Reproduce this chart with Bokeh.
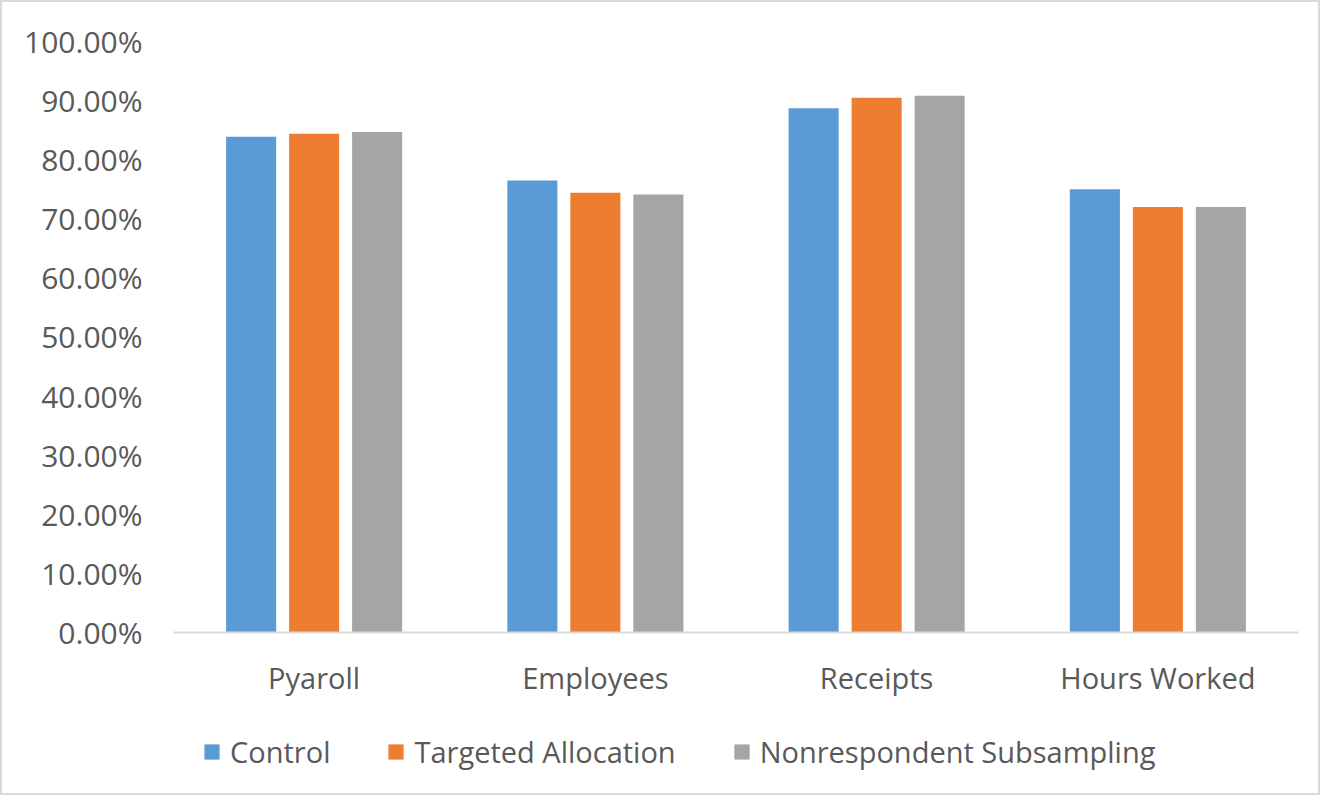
from bokeh.plotting import figure
from bokeh.models import (ColumnDataSource, Range1d, FactorRange, NumeralTickFormatter,
                          FixedTicker, Legend, LegendItem, Span)
from bokeh.core.properties import value
from bokeh.transform import dodge
from bokeh.embed import file_html
from bokeh.resources import INLINE

categories = ["Pyaroll", "Employees", "Receipts", "Hours Worked"]
series_names = ["Control", "Targeted Allocation", "Nonrespondent Subsampling"]
control = [0.839, 0.765, 0.887, 0.750]
targeted = [0.844, 0.744, 0.905, 0.720]
nonresp = [0.847, 0.741, 0.908, 0.720]
y_ticks = [0.0, 0.1, 0.2, 0.3, 0.4, 0.5, 0.6, 0.7, 0.8, 0.9, 1.0]
colors = ["#5B9BD5", "#ED7D31", "#A5A5A5"]

source = ColumnDataSource(data=dict(cat=categories, control=control,
                                    targeted=targeted, nonresp=nonresp,
                                    zero=[0.0] * len(categories)))

FONT = "Open Sans"
TXT = "#595959"

# frame extends below zero to hold category labels and legend
p = figure(x_range=FactorRange(*categories), y_range=Range1d(-0.2792, 1.0),
           width=1320, height=795, output_backend="svg", toolbar_location=None,
           min_border_left=171, min_border_right=24, min_border_top=39,
           min_border_bottom=0)
p.styles = {"border": "2px solid #d9d9d9"}
p.outline_line_color = None
p.xgrid.grid_line_color = None
p.ygrid.grid_line_color = None
p.xaxis.visible = False

cols = ["control", "targeted", "nonresp"]
offsets = [-0.224, 0.0, 0.224]
renderers = []
for col, off, c in zip(cols, offsets, colors):
    r = p.vbar(x=dodge("cat", off, range=p.x_range), top=col, width=0.178,
               source=source, fill_color=c, line_color=None)
    renderers.append(r)

# baseline (category axis line)
p.add_layout(Span(location=0, dimension="width", line_color="#d9d9d9", line_width=2))

# category labels
p.text(x="cat", y="zero", text="cat", source=source, y_offset=45,
       text_align="center", text_baseline="middle",
       text_font=value(FONT), text_font_size="29px", text_color=TXT)

# y axis
p.yaxis.ticker = FixedTicker(ticks=y_ticks)
p.yaxis.formatter = NumeralTickFormatter(format="0.00%")
p.yaxis.axis_line_color = None
p.yaxis.major_tick_line_color = None
p.yaxis.minor_tick_line_color = None
p.yaxis.major_label_text_font = FONT
p.yaxis.major_label_text_font_size = "30px"
p.yaxis.major_label_text_color = TXT
p.yaxis.major_label_standoff = 25

legend = Legend(items=[LegendItem(label=n, renderers=[r]) for n, r in zip(series_names, renderers)],
                orientation="horizontal", location=(29, 26))
legend.label_text_font = FONT
legend.label_text_font_size = "29px"
legend.label_text_color = TXT
legend.glyph_width = 19
legend.glyph_height = 19
legend.label_standoff = 9
legend.spacing = 56
legend.padding = 0
legend.margin = 0
legend.border_line_color = None
legend.background_fill_alpha = 0
p.add_layout(legend, "center")

open("out.html", "w").write(file_html(p, INLINE))
